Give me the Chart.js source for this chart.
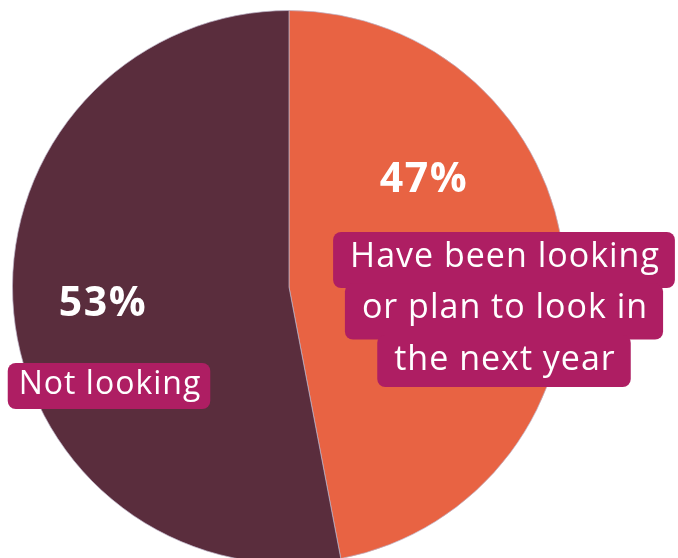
<!DOCTYPE html>
<html><head><meta charset="utf-8">
<script src="https://cdn.jsdelivr.net/npm/chart.js@4"></script>
<style>html,body{margin:0;padding:0;background:#fff;overflow:hidden;width:678px;height:558px}canvas{display:block}</style>
</head><body>
<canvas id="c" width="678" height="570"></canvas>
<script>
const categories = ['Have been looking or plan to look in the next year', 'Not looking'];
const values = [47, 53];
const valueLabels = ['47%', '53%'];
const boxLines = [['Have been looking', 'or plan to look in', 'the next year'], ['Not looking']];
const colors = ['#E86343', '#5A2D3D'];

const labelPlugin = {
  id: 'labels',
  afterDatasetsDraw(chart) {
    const ctx = chart.ctx;
    const ca = chart.chartArea;
    const cx = (ca.left + ca.right) / 2, cy = (ca.top + ca.bottom) / 2;
    const spots = [
      {pct: [cx + 135, cy - 107], box: [cx + 215, cy - 31], lh: 51.5, pad: 32, bh: 52, fs: 34},
      {pct: [cx - 186, cy + 17], box: [cx - 180, cy + 97], lh: 51, pad: 20, bh: 46, fs: 32}
    ];
    ctx.save();
    ctx.textAlign = 'center';
    ctx.textBaseline = 'middle';
    spots.forEach((s, i) => {
      ctx.fillStyle = '#fff';
      ctx.font = 'bold 41px "Open Sans", Lato, sans-serif';
      ctx.letterSpacing = '1.5px';
      ctx.fillText(valueLabels[i], s.pct[0], s.pct[1]);
      ctx.font = s.fs + 'px "Open Sans", Lato, sans-serif';
      ctx.letterSpacing = '1px';
      const lines = boxLines[i];
      lines.forEach((ln, j) => {
        const y = s.box[1] + j * s.lh + 2;
        const w = ctx.measureText(ln).width + s.pad;
        ctx.fillStyle = '#AE1E63';
        ctx.beginPath();
        ctx.roundRect(s.box[0] - w / 2, y - s.bh / 2, w, s.bh + (j < lines.length - 1 ? 4 : 0), 8);
        ctx.fill();
      });
      ctx.fillStyle = '#fff';
      lines.forEach((ln, j) => {
        ctx.fillText(ln, s.box[0] + 1, s.box[1] + j * s.lh + 1);
      });
    });
    ctx.restore();
  }
};

new Chart(document.getElementById('c'), {
  type: 'pie',
  data: {
    labels: categories,
    datasets: [{
      data: values,
      backgroundColor: colors,
      borderColor: 'rgba(190,180,200,0.7)',
      borderWidth: 1
    }]
  },
  options: {
    responsive: false,
    animation: false,
    layout: {padding: {left: 12, right: 112, top: 10, bottom: 6}},
    plugins: {legend: {display: false}, tooltip: {enabled: false}}
  },
  plugins: [labelPlugin]
});
</script>
</body></html>
